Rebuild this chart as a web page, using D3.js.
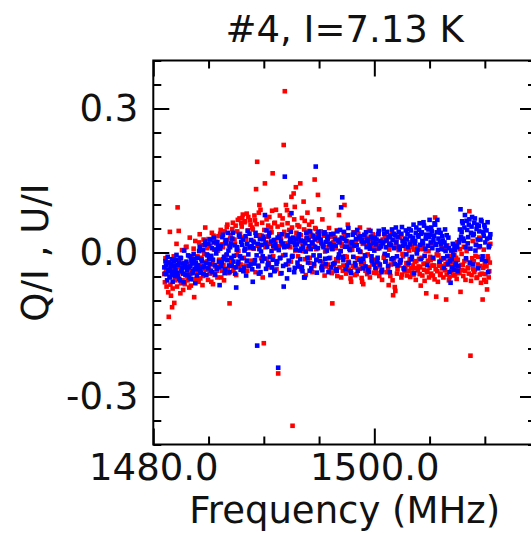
<!DOCTYPE html>
<html>
<head>
<meta charset="utf-8">
<script src="https://cdn.jsdelivr.net/npm/d3@7"></script>
<style>
  html, body { margin: 0; padding: 0; background: #fff; overflow: hidden; }
  svg { display: block; }
  text { font-family: "DejaVu Sans", sans-serif; fill: #111; }
</style>
</head>
<body>
<svg id="chart" width="531" height="533"></svg>
<script>
// ---- data ----
const titleText = "#4, I=7.13 K";
const xLabel = "Frequency (MHz)";
const yLabel = "Q/I , U/I";
const freqStart = 1481.0;   // first channel (MHz)
const freqStep = 0.05;      // channel spacing (MHz)
const xMajorTicks = [1480, 1500];
const xMinorTicks = [1485, 1490, 1495, 1505, 1510];
const yMajorTicks = [-0.3, 0.0, 0.3];
const yMinorTicks = [-0.4, -0.35, -0.25, -0.2, -0.15, -0.1, -0.05, 0.05, 0.1, 0.15, 0.2, 0.25, 0.35, 0.4];

// Q/I (red), one row per MHz starting at 1481
const qOverI = [
  -0.045, -0.062, -0.012, -0.038, -0.071, -0.024, -0.020, -0.083, -0.134, -0.051, 0.043, -0.067, -0.090, -0.029, -0.114, -0.075, -0.038, -0.008, -0.105, -0.058,
  -0.052, -0.033, 0.018, -0.071, 0.094, -0.046, 0.045, -0.019, -0.031, -0.085, -0.064, -0.041, 0.005, -0.058, -0.078, -0.027, -0.022, -0.066, -0.047, 0.011,
  0.012, -0.049, -0.058, -0.024, -0.035, -0.073, 0.031, -0.044, -0.069, -0.012, -0.015, -0.056, -0.041, 0.008, -0.093, -0.037, 0.024, -0.061, -0.055, -0.029,
  -0.008, -0.042, -0.061, 0.021, 0.038, -0.054, -0.027, -0.011, 0.015, -0.068, -0.049, 0.027, -0.003, -0.035, 0.052, -0.021, -0.036, 0.009, -0.018, -0.057,
  0.028, -0.033, -0.044, 0.013, -0.012, -0.061, 0.041, -0.024, -0.066, 0.035, 0.006, -0.047, -0.029, 0.022, 0.019, -0.038, -0.052, 0.004, 0.034, -0.015,
  -0.021, 0.039, 0.047, -0.052, -0.038, 0.017, 0.011, -0.026, -0.058, 0.044, 0.025, -0.009, -0.006, 0.053, 0.058, -0.034, -0.043, 0.014, -0.106, 0.029,
  0.036, -0.021, -0.014, 0.049, 0.062, -0.038, -0.032, 0.027, 0.018, 0.056, -0.047, -0.005, 0.044, 0.068, 0.003, -0.029, 0.071, 0.039, -0.025, 0.061,
  0.054, 0.072, 0.079, 0.031, -0.011, 0.063, 0.065, -0.027, 0.027, 0.081, -0.038, 0.046, 0.074, 0.009, 0.012, 0.067, 0.058, -0.017, -0.019, 0.052,
  0.048, 0.024, 0.008, 0.077, 0.067, -0.041, 0.132, 0.059, 0.189, 0.014, -0.027, 0.083, 0.099, 0.036, 0.089, -0.012, 0.035, 0.062, -0.052, 0.028,
  -0.189, 0.047, 0.144, 0.011, 0.021, 0.069, -0.013, 0.033, 0.056, -0.024, 0.074, 0.018, -0.031, 0.052, 0.042, 0.087, 0.165, -0.008, 0.009, 0.061,
  0.062, 0.026, 0.089, -0.035, -0.018, 0.054, -0.252, 0.013, 0.038, 0.077, -0.044, 0.029, 0.015, 0.058, 0.071, -0.006, 0.224, 0.043, 0.336, 0.019,
  0.099, 0.034, 0.088, 0.061, -0.024, 0.012, 0.047, 0.078, 0.011, -0.019, 0.116, 0.052, -0.361, 0.026, 0.123, 0.069, 0.095, 0.004, 0.136, 0.041,
  0.031, 0.057, -0.008, 0.022, 0.054, -0.029, 0.144, 0.036, -0.035, 0.072, 0.019, 0.003, 0.106, 0.048, 0.066, -0.014, -0.047, 0.029, 0.041, 0.083,
  0.008, 0.045, 0.058, -0.011, -0.022, 0.033, 0.037, 0.064, -0.041, 0.016, 0.013, -0.028, 0.152, 0.051, 0.049, 0.007, -0.016, 0.039, 0.120, 0.024,
  0.090, -0.006, 0.027, 0.044, -0.033, 0.018, 0.069, -0.021, 0.016, 0.035, -0.048, 0.002, 0.038, -0.029, 0.004, 0.026, -0.025, 0.011, 0.051, -0.037,
  -0.011, 0.019, 0.033, -0.043, -0.106, 0.008, 0.022, -0.026, -0.039, 0.031, 0.009, -0.014, 0.046, -0.049, -0.018, 0.024, 0.078, -0.031, 0.027, 0.003,
  -0.052, 0.017, 0.014, -0.038, -0.027, 0.041, 0.099, -0.008, 0.035, -0.044, -0.009, 0.023, 0.058, -0.019, -0.036, 0.012, 0.021, -0.054, -0.061, 0.007,
  0.006, -0.028, 0.042, 0.015, -0.031, -0.047, 0.017, 0.026, -0.045, -0.012, 0.028, 0.039, -0.013, -0.034, 0.052, 0.001, -0.024, -0.053, -0.061, 0.018,
  -0.066, -0.022, 0.019, 0.033, -0.038, -0.007, 0.031, -0.045, -0.004, 0.014, 0.047, -0.031, -0.052, 0.025, 0.012, -0.016, -0.021, 0.038, 0.036, -0.042,
  -0.015, 0.009, 0.026, -0.036, -0.043, 0.018, 0.008, -0.022, 0.039, -0.049, -0.029, 0.012, 0.016, -0.038, -0.057, 0.027, 0.023, -0.011, -0.007, 0.032,
  0.034, -0.018, -0.041, 0.024, 0.011, -0.032, -0.068, 0.006, 0.019, -0.049, -0.025, 0.013, 0.042, -0.058, -0.089, -0.021, -0.012, -0.072, -0.080, 0.017,
  0.028, -0.044, -0.035, 0.012, 0.005, -0.027, -0.019, 0.031, 0.037, -0.052, -0.046, -0.003, -0.008, 0.022, 0.015, -0.039, -0.031, 0.008, -0.022, -0.048,
  0.009, -0.026, -0.038, 0.004, -0.014, -0.051, 0.021, -0.033, -0.042, 0.011, -0.027, -0.046, 0.006, -0.019, -0.033, -0.057, -0.018, 0.002, 0.012, -0.037,
  -0.029, -0.013, -0.045, -0.031, -0.069, 0.007, -0.011, -0.048, 0.014, -0.024, -0.036, -0.059, -0.023, 0.004, -0.085, -0.038, -0.041, -0.017, 0.003, -0.052,
  -0.032, -0.009, -0.016, -0.044, 0.018, -0.027, -0.048, -0.013, -0.027, -0.056, 0.073, -0.035, -0.092, -0.004, -0.039, -0.061, -0.006, -0.028, -0.021, -0.047,
  -0.044, -0.015, 0.009, -0.033, -0.028, -0.052, -0.012, 0.006, -0.037, -0.024, -0.098, -0.046, 0.015, -0.019, -0.025, -0.058, -0.051, -0.007, -0.008, -0.039,
  -0.034, -0.021, 0.004, -0.048, -0.019, -0.006, -0.046, -0.031, -0.011, -0.055, 0.021, -0.015, -0.029, -0.043, -0.041, 0.007, -0.082, -0.026, -0.003, -0.037,
  -0.026, -0.049, 0.012, -0.018, -0.038, -0.057, -0.015, 0.003, 0.008, -0.033, -0.031, -0.044, 0.086, -0.022, -0.215, -0.059, -0.047, -0.012, 0.024, -0.035,
  -0.018, -0.041, -0.036, -0.007, 0.016, -0.053, -0.052, -0.025, -0.009, 0.011, 0.031, -0.046, -0.028, -0.063, -0.044, -0.015, -0.098, -0.032, 0.006, -0.057,
  -0.024, -0.045, -0.061, -0.029, -0.077, -0.008, -0.013, -0.052, -0.039, -0.021, 0.018
];

// U/I (blue), one row per MHz starting at 1481
const uOverI = [
  -0.031, -0.044, -0.018, -0.027, -0.045, -0.058, -0.009, -0.036, -0.038, -0.021, -0.052, -0.033, -0.024, -0.047, -0.014, -0.061, -0.041, -0.019, -0.028, -0.049,
  -0.036, -0.015, -0.005, -0.042, -0.049, -0.026, -0.021, -0.055, -0.058, -0.011, -0.012, -0.039, -0.033, -0.023, -0.044, -0.062, 0.004, -0.031, -0.027, -0.046,
  -0.019, -0.037, -0.047, -0.006, -0.031, -0.052, -0.008, -0.029, -0.055, -0.016, -0.023, -0.043, -0.039, -0.003, -0.013, -0.034, -0.064, -0.021, -0.026, -0.048,
  -0.011, -0.027, -0.035, 0.003, 0.012, -0.039, -0.042, -0.014, -0.018, -0.031, 0.005, -0.045, -0.029, 0.016, 0.024, -0.022, -0.047, -0.004, -0.006, -0.033,
  0.018, -0.013, -0.024, 0.027, -0.038, -0.007, 0.009, -0.041, -0.015, 0.021, 0.031, -0.026, -0.046, 0.006, -0.002, -0.034, 0.022, 0.013, -0.031, -0.019,
  -0.068, 0.008, 0.014, -0.029, -0.021, 0.032, 0.037, -0.014, -0.009, -0.043, -0.035, 0.019, 0.026, -0.004, -0.016, 0.041, 0.004, -0.027, -0.041, 0.011,
  0.019, -0.011, -0.028, 0.029, 0.041, -0.019, -0.007, 0.015, -0.044, -0.031, -0.073, 0.006, 0.011, -0.024, -0.019, 0.037, 0.033, -0.008, -0.036, 0.022,
  -0.012, 0.016, 0.027, -0.039, -0.031, 0.004, 0.008, 0.034, -0.048, -0.017, 0.018, 0.045, -0.004, -0.028, 0.039, 0.011, -0.025, 0.026, 0.013, -0.035,
  -0.061, 0.009, 0.021, -0.023, -0.016, 0.041, 0.035, -0.006, -0.194, 0.018, -0.029, -0.044, 0.007, 0.028, -0.041, 0.002, 0.016, -0.018, -0.008, 0.033,
  0.028, -0.013, 0.078, 0.019, -0.034, 0.046, 0.012, -0.026, -0.022, 0.034, 0.041, -0.009, -0.047, 0.023, 0.003, -0.031, -0.015, 0.014, 0.026, -0.039,
  -0.038, 0.017, 0.009, -0.024, -0.019, 0.031, -0.240, 0.005, 0.033, -0.012, -0.011, 0.024, -0.043, 0.038, 0.018, -0.028, -0.071, 0.011, 0.158, -0.005,
  -0.025, 0.013, -0.054, 0.036, 0.014, -0.017, -0.036, 0.022, 0.029, 0.043, 0.082, -0.009, -0.007, 0.031, 0.021, -0.041, -0.032, 0.015, 0.006, 0.027,
  0.017, -0.021, -0.029, 0.033, 0.038, 0.004, -0.014, 0.025, 0.008, -0.031, -0.039, 0.012, 0.024, -0.052, -0.052, 0.019, 0.002, 0.041, 0.031, -0.011,
  -0.021, 0.026, 0.013, -0.038, 0.044, 0.007, -0.033, 0.021, 0.019, 0.035, -0.006, -0.024, 0.027, 0.012, 0.179, -0.015, -0.042, 0.031, 0.009, 0.043,
  0.035, -0.007, -0.018, 0.026, 0.021, -0.029, -0.037, 0.014, 0.011, 0.039, 0.042, -0.013, -0.024, 0.022, 0.004, 0.033, 0.029, -0.041, -0.012, 0.017,
  0.018, 0.038, -0.031, 0.009, 0.007, -0.024, 0.039, 0.015, -0.022, 0.028, 0.014, -0.035, -0.038, 0.044, 0.025, -0.011, -0.004, 0.021, 0.047, 0.003,
  0.094, 0.031, 0.115, -0.009, -0.016, 0.043, 0.028, 0.012, -0.035, 0.024, 0.012, -0.027, 0.036, 0.051, -0.021, 0.008, 0.005, -0.039, -0.043, 0.019,
  0.022, 0.037, -0.009, 0.014, 0.041, -0.022, -0.027, 0.028, 0.015, 0.047, -0.038, 0.006, 0.031, -0.015, 0.002, 0.034, -0.019, 0.023, 0.026, -0.033,
  -0.013, 0.021, 0.037, -0.006, -0.029, 0.042, 0.011, 0.027, 0.024, -0.036, -0.041, 0.016, 0.008, 0.045, 0.033, -0.008, -0.017, 0.029, 0.019, -0.025,
  0.004, 0.031, -0.032, 0.017, 0.027, -0.019, -0.011, 0.038, 0.045, 0.009, -0.025, 0.024, 0.013, -0.041, -0.036, 0.019, 0.021, 0.048, 0.039, -0.003,
  -0.019, 0.011, 0.025, 0.043, -0.006, -0.028, 0.032, 0.017, -0.041, 0.035, 0.016, -0.014, 0.048, 0.026, -0.012, 0.039, 0.009, -0.024, 0.036, 0.052,
  0.021, -0.008, -0.027, 0.033, 0.043, 0.012, 0.007, -0.021, -0.016, 0.039, 0.053, 0.024, 0.014, -0.033, -0.035, 0.018, 0.029, 0.046, -0.004, 0.027,
  0.038, 0.011, -0.022, 0.049, 0.017, 0.034, 0.046, -0.014, -0.009, 0.025, 0.031, 0.058, -0.043, 0.019, 0.024, 0.041, 0.052, -0.002, 0.006, 0.036,
  0.033, 0.047, 0.061, 0.016, -0.014, 0.039, 0.042, 0.024, 0.019, 0.063, 0.056, -0.007, 0.008, 0.029, 0.037, 0.051, -0.026, 0.014, 0.048, 0.032,
  0.068, 0.037, 0.021, 0.052, 0.044, 0.009, -0.011, 0.026, 0.035, 0.061, 0.058, 0.018, 0.016, 0.042, 0.068, 0.005, 0.029, 0.047, -0.019, 0.022,
  0.041, 0.017, 0.007, 0.034, 0.025, -0.012, -0.032, 0.021, 0.048, 0.003, 0.013, 0.036, -0.008, -0.024, 0.031, 0.009, -0.041, -0.018, -0.063, 0.004,
  -0.014, -0.031, 0.018, -0.005, -0.036, 0.009, 0.005, -0.026, -0.022, 0.014, 0.011, -0.039, -0.029, 0.021, 0.026, 0.048, 0.090, 0.033, 0.043, 0.065,
  0.061, 0.029, 0.024, 0.052, 0.078, 0.011, -0.012, 0.066, 0.047, 0.019, 0.032, 0.058, 0.069, -0.021, 0.008, 0.041, 0.054, 0.074, -0.025, 0.036,
  0.039, 0.062, 0.071, 0.004, 0.016, 0.049, 0.058, 0.027, -0.033, 0.055, 0.044, 0.013, 0.027, 0.068, 0.065, -0.014, -0.008, 0.042, 0.035, 0.057,
  0.052, 0.021, -0.018, 0.046, 0.029, 0.063, -0.041, 0.011, 0.014, 0.031, 0.038
];

const series = [
  { name: "Q/I", color: "#ff0000", values: qOverI },
  { name: "U/I", color: "#0000ff", values: uOverI }
];

// ---- layout ----
const M = { left: 153.3, right: 536, top: 60.5, bottom: 444.5 };
const fontSize = 37;

const svg = d3.select("#chart");

const x = d3.scaleLinear().domain([1480, 1514.63]).range([M.left, M.right]);
const y = d3.scaleLinear().domain([-0.4, 0.4]).range([M.bottom, M.top]);

// points
const ms = 4.6;
series.forEach(s => {
  svg.append("g")
    .selectAll("rect")
    .data(s.values.map((v, i) => ({ f: freqStart + i * freqStep, v })))
    .join("rect")
    .attr("x", d => x(d.f) - ms / 2)
    .attr("y", d => y(d.v) - ms / 2)
    .attr("width", ms)
    .attr("height", ms)
    .attr("fill", s.color);
});

// axes frame
svg.append("rect")
  .attr("x", M.left).attr("y", M.top)
  .attr("width", M.right - M.left).attr("height", M.bottom - M.top)
  .attr("fill", "none").attr("stroke", "#000").attr("stroke-width", 2);

function styleAxis(g) {
  g.select(".domain").remove();
  g.selectAll(".tick line").attr("stroke", "#000").attr("stroke-width", 2);
  g.selectAll(".tick text")
    .style("font-family", "'DejaVu Sans', sans-serif")
    .style("font-size", fontSize + "px")
    .attr("fill", "#111");
}

// bottom
svg.append("g").attr("transform", `translate(0,${M.bottom})`)
  .call(d3.axisBottom(x).tickValues(xMajorTicks).tickSize(-16).tickPadding(9)
    .tickFormat(d => d.toFixed(1)))
  .call(styleAxis);
svg.append("g").attr("transform", `translate(0,${M.bottom})`)
  .call(d3.axisBottom(x).tickValues(xMinorTicks).tickSize(-8).tickFormat(""))
  .call(styleAxis);
// top
svg.append("g").attr("transform", `translate(0,${M.top})`)
  .call(d3.axisTop(x).tickValues(xMajorTicks).tickSize(-16).tickFormat(""))
  .call(styleAxis);
svg.append("g").attr("transform", `translate(0,${M.top})`)
  .call(d3.axisTop(x).tickValues(xMinorTicks).tickSize(-8).tickFormat(""))
  .call(styleAxis);
// left
svg.append("g").attr("transform", `translate(${M.left},0)`)
  .call(d3.axisLeft(y).tickValues(yMajorTicks).tickSize(-16).tickPadding(15)
    .tickFormat(d => d.toFixed(1)))
  .call(styleAxis);
svg.append("g").attr("transform", `translate(${M.left},0)`)
  .call(d3.axisLeft(y).tickValues(yMinorTicks).tickSize(-8).tickFormat(""))
  .call(styleAxis);
// right
svg.append("g").attr("transform", `translate(${M.right},0)`)
  .call(d3.axisRight(y).tickValues(yMajorTicks).tickSize(-16).tickFormat(""))
  .call(styleAxis);
svg.append("g").attr("transform", `translate(${M.right},0)`)
  .call(d3.axisRight(y).tickValues(yMinorTicks).tickSize(-8).tickFormat(""))
  .call(styleAxis);

const cx = (M.left + M.right) / 2;
// title
svg.append("text")
  .attr("x", cx).attr("y", 42)
  .attr("text-anchor", "middle")
  .style("font-size", fontSize + "px")
  .text(titleText);
// x label
svg.append("text")
  .attr("x", cx).attr("y", 523)
  .attr("text-anchor", "middle")
  .style("font-size", fontSize + "px")
  .text(xLabel);
// y label
svg.append("text")
  .attr("transform", `translate(48,${(M.top + M.bottom) / 2}) rotate(-90)`)
  .attr("text-anchor", "middle")
  .style("font-size", fontSize + "px")
  .text(yLabel);
</script>
</body>
</html>
